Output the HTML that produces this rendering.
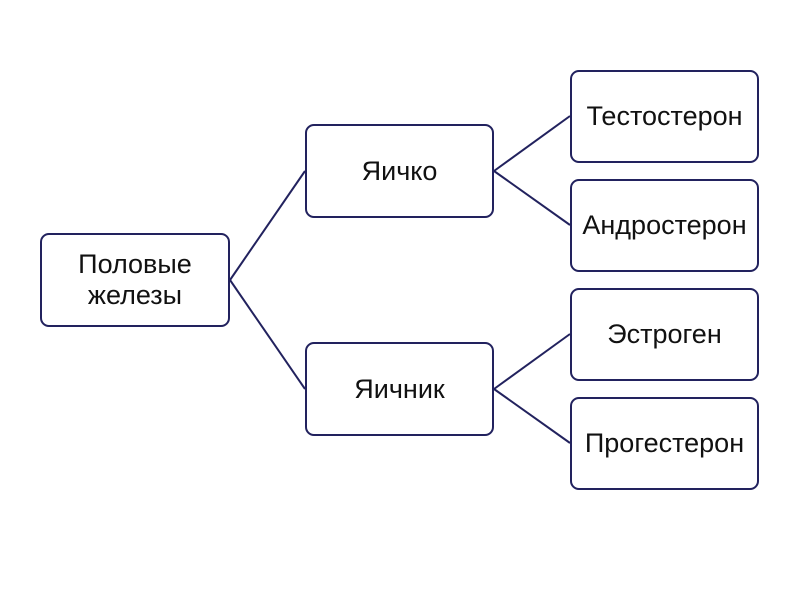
<!DOCTYPE html>
<html><head><meta charset="utf-8"><style>
body{margin:0;width:800px;height:600px;background:#fff;position:relative;overflow:hidden;font-family:"Liberation Sans",sans-serif}
.b{position:absolute;box-sizing:border-box;border:2px solid #22225e;border-radius:9px;background:#fff;display:flex;align-items:center;justify-content:center;text-align:center;font-size:27px;color:#111;line-height:31px;white-space:nowrap}
svg{position:absolute;left:0;top:0}
</style></head><body>
<svg width="800" height="600"><g stroke="#22225e" stroke-width="2" fill="none">
<line x1="230" y1="280" x2="305" y2="171"/><line x1="230" y1="280" x2="305" y2="389"/>
<line x1="494" y1="171" x2="570" y2="116"/><line x1="494" y1="171" x2="570" y2="225"/>
<line x1="494" y1="389" x2="570" y2="334"/><line x1="494" y1="389" x2="570" y2="443"/>
</g></svg>
<div class="b" style="left:40px;top:233px;width:190px;height:94px">Половые<br>железы</div>
<div class="b" style="left:305px;top:124px;width:189px;height:94px">Яичко</div>
<div class="b" style="left:305px;top:342px;width:189px;height:94px">Яичник</div>
<div class="b" style="left:570px;top:70px;width:189px;height:93px">Тестостерон</div>
<div class="b" style="left:570px;top:179px;width:189px;height:93px">Андростерон</div>
<div class="b" style="left:570px;top:288px;width:189px;height:93px">Эстроген</div>
<div class="b" style="left:570px;top:397px;width:189px;height:93px">Прогестерон</div>
</body></html>
